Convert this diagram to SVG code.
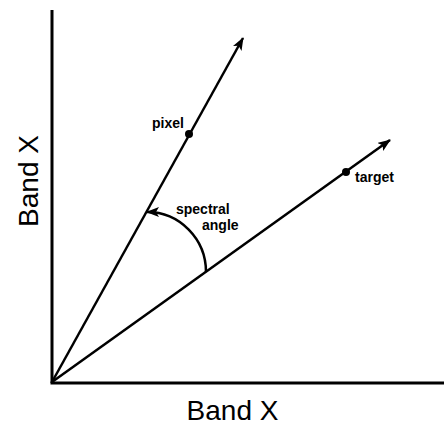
<svg xmlns="http://www.w3.org/2000/svg" width="444" height="427" viewBox="0 0 444 427">
<style>
.ln{stroke:#000;stroke-width:2.5;fill:none}
.ax{stroke:#000;stroke-width:3;fill:none}
.lbl{font-family:"Liberation Sans",Arial,sans-serif;font-weight:bold;font-size:14px;fill:#000}
.axl{font-family:"Liberation Sans",Arial,sans-serif;font-size:28px;fill:#000}
</style>
<defs>
<marker id="ah" viewBox="0 0 13 10" refX="12" refY="5" markerWidth="13" markerHeight="10" markerUnits="userSpaceOnUse" orient="auto">
<path d="M0,0 L13,5 L0,10 L3,5 Z" fill="#000"/>
</marker>
</defs>
<g id="axes">
<line class="ax" x1="52" y1="10" x2="52" y2="383"/>
<line class="ax" x1="50.5" y1="383" x2="444" y2="383"/>
</g>
<g id="connectors">
<line class="ln" x1="52" y1="382" x2="243" y2="38" marker-end="url(#ah)"/>
<line class="ln" x1="52" y1="382" x2="390" y2="140" marker-end="url(#ah)"/>
<path class="ln" d="M206,272 A59,60 0 0 0 147,212" marker-end="url(#ah)"/>
</g>
<g id="pixel">
<circle cx="189" cy="134" r="4" fill="#000"/>
<text class="lbl" x="152" y="128">pixel</text>
</g>
<g id="target">
<circle cx="346" cy="172" r="4" fill="#000"/>
<text class="lbl" x="355" y="182">target</text>
</g>
<g id="angle">
<text class="lbl" x="176" y="214">spectral</text>
<text class="lbl" x="202" y="230">angle</text>
</g>
<g id="labels">
<text class="axl" x="232.5" y="420" text-anchor="middle">Band X</text>
<text class="axl" transform="translate(38,181) rotate(-90)" text-anchor="middle">Band X</text>
</g>
</svg>
